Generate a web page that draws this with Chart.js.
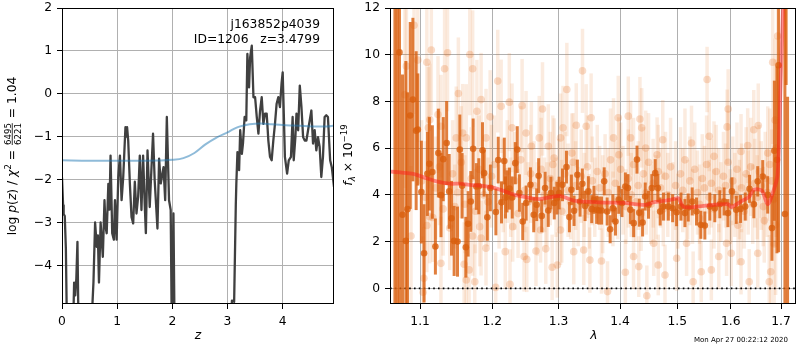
<!DOCTYPE html>
<html>
<head>
<meta charset="utf-8">
<script src="https://cdn.jsdelivr.net/npm/chart.js@4.4.0/dist/chart.umd.min.js"></script>
<style>
html,body{margin:0;padding:0;background:#fff;}
#wrap{position:relative;width:800px;height:350px;overflow:hidden;}
#pz{position:absolute;left:0;top:0;}
#spec{position:absolute;left:340px;top:0;}
</style>
</head>
<body>
<div id="wrap">
  <canvas id="pz" width="340" height="350"></canvas>
  <canvas id="spec" width="460" height="350"></canvas>
</div>
<script>
/* ---------- left panel: log p(z) ---------- */
const zTicks=[0,1,2,3,4];
const pzTicks=[-4,-3,-2,-1,0,1,2];
const zMax=4.93, pzMin=-4.9, pzMax=2;

const zGrid=[
  0.00,0.02,0.03,0.05,0.07,0.09,0.20,0.22,0.24,0.26,
  0.28,0.30,0.53,0.57,0.60,0.63,0.65,0.67,0.70,0.72,
  0.74,0.77,0.79,0.81,0.84,0.86,0.88,0.91,0.94,0.96,
  0.99,1.02,1.05,1.08,1.11,1.15,1.17,1.18,1.20,1.23,
  1.26,1.29,1.32,1.35,1.38,1.41,1.44,1.47,1.50,1.52,
  1.55,1.59,1.62,1.65,1.68,1.73,1.76,1.79,1.84,1.87,
  1.90,1.94,1.97,1.99,2.02,2.04,3.06,3.08,3.12,3.15,
  3.16,3.18,3.21,3.23,3.26,3.28,3.31,3.34,3.36,3.39,
  3.41,3.44,3.47,3.50,3.53,3.56,3.59,3.62,3.65,3.68,
  3.71,3.74,3.77,3.80,3.83,3.86,3.89,3.92,3.95,3.98,
  4.00,4.02,4.04,4.08,4.11,4.15,4.18,4.20,4.23,4.25,
  4.28,4.31,4.34,4.37,4.40,4.43,4.46,4.49,4.52,4.55,
  4.58,4.61,4.64,4.67,4.70,4.73,4.76,4.79,4.82,4.86,
  4.89,4.93];
const logPz=[
  -1.95,-2.6,-2.8,-2.85,-3.6,-5.5,-5.5,-4.4,-4.7,-4.3,
  -3.45,-5.5,-5.5,-4.4,-3.0,-3.57,-3.3,-4.4,-3.0,-3.4,
  -3.8,-2.48,-3.1,-3.25,-2.1,-2.7,-1.44,-3.25,-3.4,-2.48,
  -3.4,-1.94,-1.44,-2.48,-1.94,-0.78,-1.0,-0.78,-1.09,-2.09,
  -2.87,-3.02,-2.05,-2.79,-2.4,-1.44,-2.71,-1.44,-2.6,-3.25,
  -1.32,-2.64,-1.78,-0.93,-2.02,-3.14,-1.51,-2.09,-1.71,-2.48,
  -0.54,-2.48,-2.71,-5.5,-2.79,-5.5,-5.5,-4.82,-4.85,-2.6,
  -2.09,-1.36,-1.78,-0.85,-1.4,-1.16,-0.54,-0.62,0.93,0.15,
  0.85,1.12,-0.08,-0.08,-0.54,-0.93,-0.39,-0.08,-0.7,-0.46,
  -0.46,-1.09,-1.47,-1.55,-1.09,-0.7,-0.23,-0.08,-0.31,0.25,
  0.5,-0.46,-1.47,-1.86,-1.55,-1.47,-0.54,-1.55,-1.01,-0.46,
  -0.85,0.19,-0.31,-1.01,-1.09,-1.09,-0.85,-0.62,-0.39,-1.16,
  -0.85,-1.32,-1.01,-1.24,-1.94,-1.47,-0.54,-0.5,-0.54,-1.55,
  -1.71,-2.17];

const zSmooth=[0,0.5,1.0,1.5,2.0,2.2,2.4,2.6,2.8,3.0,3.1,3.2,3.4,3.6,3.8,4.0,4.2,4.4,4.6,4.8,4.93];
const logPzSmooth=[-1.55,-1.56,-1.56,-1.56,-1.54,-1.5,-1.38,-1.18,-1.02,-0.9,-0.83,-0.77,-0.71,-0.69,-0.71,-0.73,-0.74,-0.75,-0.76,-0.76,-0.74];

/* ---------- right panel: spectrum ---------- */
const lamTicks=[1.1,1.2,1.3,1.4,1.5,1.6,1.7];
const fluxTicks=[0,2,4,6,8,10,12];
const lamMin=1.0608, lamMax=1.731, fluxMin=-0.67, fluxMax=12;

const darkLam=[
  1.0671,1.0700,1.0730,1.0769,1.0813,1.0834,1.0870,1.0905,
  1.0948,1.0970,1.1017,1.1053,1.1097,1.1124,1.1164,1.1205,
  1.1245,1.1281,1.1312,1.1358,1.1393,1.1425,1.1461,1.1508,
  1.1540,1.1572,1.1624,1.1656,1.1694,1.1727,1.1772,1.1807,
  1.1860,1.1883,1.1929,1.1973,1.2053,1.2087,1.2135,1.2176,
  1.2194,1.2216,1.2253,1.2293,1.2338,1.2368,1.2400,1.2450,
  1.2501,1.2566,1.2616,1.2661,1.2691,1.2738,1.2790,1.2839,
  1.2880,1.2932,1.2974,1.3009,1.3061,1.3124,1.3171,1.3202,
  1.3245,1.3298,1.3341,1.3378,1.3422,1.3475,1.3530,1.3567,
  1.3611,1.3647,1.3692,1.3735,1.3784,1.3834,1.3879,1.3923,
  1.3978,1.4033,1.4090,1.4134,1.4175,1.4232,1.4289,1.4329,
  1.4386,1.4432,1.4489,1.4547,1.4607,1.4653,1.4694,1.4752,
  1.4840,1.4917,1.4988,1.5068,1.5140,1.5200,1.5273,1.5352,
  1.5433,1.5508,1.5601,1.5695,1.5790,1.5872,1.5946,1.6023,
  1.6106,1.6191,1.6281,1.6367,1.6452,1.6529,1.6629,1.6729,
  1.6815,1.6864,1.6917,1.6950,1.7080,1.7105,1.7135];
const darkFlux=[
  -4,15,10.1,3.15,2.03,3.39,7.4,8.08,
  6.75,6.8,4.12,1.5,4.9,5.33,4.98,1.79,
  5.79,3.99,5.53,6.22,4.15,3.0,2.03,2.0,
  5.94,4.39,1.76,2.76,3.72,5.97,4.36,4.37,
  5.91,4.93,3.04,4.3,3.27,5.49,3.68,5.45,
  3.89,4.15,4.27,3.89,5.36,5.94,4.08,2.86,
  3.65,4.43,3.15,3.58,4.82,3.1,4.29,3.33,
  4.08,3.65,3.86,4.08,4.43,5.19,3.05,4.22,
  3.32,4.86,3.72,4.48,3.53,4.15,3.39,3.79,
  3.36,3.33,3.33,4.58,3.29,2.53,3.43,2.86,
  3.79,3.65,4.36,4.29,3.36,2.79,5.51,3.24,
  2.82,3.93,3.58,4.29,4.93,4.29,3.29,3.5,
  3.5,3.43,3.26,3.5,3.22,3.46,3.72,3.29,
  2.72,2.69,3.5,3.43,3.6,3.72,3.22,4.15,
  3.36,3.4,3.5,4.26,3.6,4.58,4.79,4.0,
  2.58,5.89,5.5,9.55,3.18,20,-3];
const darkErr=[
  17,16,11,6,7.7,5,4,3.5,
  3.4,2.4,2.2,2.1,1.8,2.0,2.0,1.2,
  1.9,1.8,1.8,1.8,1.6,1.6,1.5,1.5,
  1.5,1.4,1.3,1.4,1.3,1.3,1.0,1.2,
  1.2,1.0,1.0,1.0,1.0,1.0,0.9,1.0,
  0.9,0.9,0.9,0.9,0.9,1.0,0.8,0.8,
  0.75,0.75,0.75,0.7,0.75,0.7,0.7,0.7,
  0.7,0.7,0.7,0.7,0.7,0.7,0.65,0.65,
  0.65,0.65,0.65,0.65,0.65,0.65,0.6,0.6,
  0.6,0.6,0.6,0.6,0.6,0.6,0.6,0.6,
  0.6,0.6,0.6,0.6,0.6,0.6,0.6,0.6,
  0.6,0.6,0.6,0.6,0.6,0.6,0.6,0.6,
  0.6,0.6,0.6,0.6,0.6,0.6,0.6,0.6,
  0.6,0.6,0.6,0.6,0.6,0.6,0.6,0.6,
  0.6,0.6,0.6,0.6,0.6,0.65,0.7,0.8,
  1.4,3.0,4.0,8.0,9.0,11.3,11.2];

const faintLam=[
  1.080,1.082,1.092,1.097,1.109,1.115,1.111,1.113,
  1.124,1.128,1.133,1.137,1.149,1.152,1.158,1.163,
  1.168,1.172,1.178,1.184,1.191,1.197,1.208,1.213,
  1.225,1.229,1.244,1.250,1.258,1.270,1.275,1.284,
  1.293,1.303,1.307,1.313,1.321,1.328,1.338,1.344,
  1.352,1.389,1.397,1.398,1.414,1.418,1.434,1.437,
  1.444,1.464,1.474,1.526,1.555,1.559,1.568,1.593,
  1.595,1.620,1.633,1.645,1.654,1.673,1.683,1.693,
  1.088,1.104,1.105,1.109,1.113,1.117,1.128,1.140,
  1.147,1.160,1.163,1.167,1.172,1.175,1.182,1.184,
  1.191,1.205,1.219,1.226,1.230,1.247,1.251,1.265,
  1.272,1.280,1.290,1.298,1.303,1.324,1.340,1.350,
  1.369,1.379,1.409,1.423,1.432,1.446,1.458,1.466,
  1.478,1.499,1.517,1.529,1.544,1.563,1.577,1.592,
  1.601,1.620,1.636,1.653,1.676,1.679,1.689,1.686,
  1.102,1.107,1.121,1.126,1.131,1.144,1.151,1.156,
  1.161,1.170,1.176,1.181,1.188,1.194,1.199,1.203,
  1.210,1.216,1.222,1.227,1.233,1.238,1.242,1.248,
  1.253,1.257,1.262,1.267,1.273,1.278,1.282,1.287,
  1.291,1.296,1.300,1.305,1.310,1.315,1.319,1.323,
  1.327,1.331,1.336,1.341,1.346,1.349,1.354,1.358,
  1.362,1.366,1.371,1.375,1.380,1.384,1.388,1.392,
  1.396,1.401,1.405,1.410,1.414,1.419,1.423,1.427,
  1.431,1.436,1.440,1.445,1.449,1.453,1.457,1.462,
  1.466,1.470,1.475,1.479,1.483,1.488,1.492,1.497,
  1.501,1.506,1.510,1.514,1.519,1.523,1.528,1.532,
  1.537,1.541,1.546,1.550,1.554,1.559,1.563,1.568,
  1.572,1.577,1.581,1.586,1.590,1.595,1.599,1.604,
  1.608,1.612,1.617,1.621,1.626,1.630,1.634,1.639,
  1.643,1.647,1.652,1.656,1.660,1.664,1.668,1.672,
  1.677,1.681,1.685,1.688,1.690,1.666,1.614,1.541];
const faintFlux=[
  8.29,9.51,11.26,9.77,9.68,10.2,6.87,7.22,
  7.44,6.94,9.4,10.08,6.44,8.34,6.65,6.44,
  10.01,9.4,7.58,8.08,6.44,7.34,8.87,7.79,
  7.97,6.87,7.82,6.65,6.08,6.44,7.68,6.08,
  5.58,6.44,6.87,8.51,5.79,6.98,9.31,6.94,
  7.3,6.44,7.3,5.72,7.37,6.44,7.25,6.87,
  6.01,5.72,6.36,6.22,8.94,6.51,5.65,6.91,
  7.68,5.86,6.11,6.79,6.97,5.79,9.68,10.8,
  2.24,-0.17,0.43,2.69,3.07,3.03,1.07,2.58,
  3.5,1.03,0.36,0.79,2.24,0.28,2.64,2.15,
  1.72,0.04,1.57,0.17,2.64,1.36,1.24,1.6,
  2.5,1.69,0.9,1.0,2.5,1.57,1.64,1.21,
  1.17,-0.14,0.69,1.36,0.93,-0.32,1.93,1.0,
  0.57,1.29,1.93,0.28,0.71,0.79,1.36,1.93,
  1.5,1.14,0.28,1.5,0.28,0.71,2.72,1.9,
  4.6,3.9,4.3,5.2,3.4,4.9,4.1,5.4,
  3.6,4.7,3.3,5.1,4.0,3.7,4.8,5.3,
  3.5,4.4,5.0,3.9,4.6,3.2,5.5,4.2,
  3.7,4.9,4.4,3.4,5.1,4.0,3.6,4.7,
  5.3,3.9,4.5,3.3,4.9,4.2,3.7,5.4,
  4.4,3.5,4.8,4.0,5.2,3.3,4.6,3.9,
  5.0,4.3,3.6,4.9,4.1,5.5,3.4,4.5,
  3.8,5.1,4.2,3.5,4.7,4.0,5.3,3.7,
  4.4,3.2,4.9,4.1,5.4,3.6,4.5,3.9,
  5.0,4.3,3.4,4.8,4.0,5.2,3.7,4.4,
  3.3,4.9,4.2,5.5,3.8,4.6,3.5,5.1,
  4.1,3.6,4.7,4.3,5.3,3.9,4.5,3.4,
  5.0,4.2,3.7,4.8,4.4,5.4,3.5,4.6,
  4.0,5.1,3.8,4.3,3.3,4.9,4.1,5.2,
  3.6,4.5,3.9,5.0,4.4,3.5,4.7,4.1,
  5.3,4.6,3.8,7.2,6.0,2.9,2.7,3.0];
const faintErr=[
  4.0,4.5,3.8,3.5,3.0,2.8,2.6,2.4,
  2.5,2.2,2.6,2.5,2.2,2.4,2.1,2.3,
  2.6,2.5,2.2,2.0,2.1,2.0,2.2,2.0,
  2.1,1.9,2.0,1.8,1.9,1.8,2.0,1.8,
  1.7,1.9,1.8,2.0,1.7,1.8,1.8,1.8,
  1.9,1.7,1.8,1.6,1.7,1.6,1.8,1.7,
  1.6,1.6,1.7,1.6,1.4,1.5,1.5,1.6,
  1.7,1.6,1.6,1.7,1.8,2.0,3.5,4.0,
  3.0,2.4,2.2,2.0,2.0,1.9,2.0,1.8,
  1.8,1.8,1.7,1.8,1.7,1.6,1.7,1.6,
  1.6,1.5,1.6,1.5,1.5,1.5,1.4,1.5,
  1.4,1.5,1.4,1.4,1.5,1.4,1.5,1.4,
  1.4,1.3,1.4,1.4,1.3,1.3,1.4,1.3,
  1.3,1.4,1.4,1.3,1.3,1.3,1.4,1.4,
  1.4,1.4,1.4,1.5,2.0,2.2,3.0,2.6,
  2.6,2.4,2.2,2.5,2.0,2.3,1.9,2.4,
  2.1,2.2,1.8,2.3,2.0,1.9,2.2,2.1,
  1.8,2.0,2.2,1.7,2.1,1.9,2.3,1.8,
  1.7,2.1,1.9,2.0,2.2,1.6,1.8,2.0,
  2.1,1.7,1.9,2.2,1.8,2.0,1.6,2.1,
  1.9,1.7,2.0,1.8,2.2,1.6,1.9,1.7,
  2.0,1.8,2.1,1.7,1.9,2.2,1.6,1.8,
  1.7,2.0,1.9,1.6,2.1,1.8,2.0,1.7,
  1.9,1.6,2.0,1.8,2.1,1.7,1.9,1.8,
  2.0,1.7,1.6,1.9,1.8,2.1,1.7,1.9,
  1.6,2.0,1.8,2.2,1.7,1.9,1.6,2.0,
  1.8,1.7,1.9,1.8,2.1,1.6,1.9,1.7,
  2.0,1.8,1.7,1.9,1.8,2.2,1.6,1.9,
  1.8,2.0,1.7,1.9,1.6,2.0,1.8,2.1,
  1.7,1.9,1.8,2.0,1.9,1.7,2.0,1.9,
  2.4,2.2,2.0,3.5,3.8,1.8,1.7,1.8];

const modelLam=[1.062,1.074,1.091,1.108,1.122,1.140,1.154,1.168,1.186,1.200,1.215,1.230,1.240,1.270,1.301,1.324,1.365,1.406,1.444,1.458,1.478,1.495,1.502,1.511,1.531,1.557,1.595,1.601,1.620,1.636,1.645,1.661,1.673,1.683,1.693,1.699,1.705];
const modelFlux=[5.0,4.96,4.9,4.72,4.58,4.48,4.48,4.43,4.39,4.32,4.19,4.03,3.96,3.82,3.96,3.76,3.68,3.66,3.57,3.69,3.75,3.83,3.86,3.5,3.48,3.55,3.6,3.48,3.72,3.93,4.22,4.18,3.6,4.08,4.86,8.7,12.5];

/* ---------- shared bits ---------- */
const FONT='"DejaVu Sans", sans-serif';
const FS=12.3;
Chart.defaults.font.family=FONT;
Chart.defaults.font.size=FS;
Chart.defaults.color='#000';

const fmtNum=v=>v<0?'\u2212'+Math.abs(v):String(v);
const f=(sz,it)=>(it?'italic ':'')+sz+'px '+FONT;

function drawRich(ctx,parts,x,y,rot) {
    ctx.save();
    ctx.translate(x,y); ctx.rotate(rot||0);
    ctx.fillStyle='#000'; ctx.textBaseline='alphabetic'; ctx.textAlign='left';
    let total=0;
    parts.forEach(p=>{
        ctx.font=p.font;
        p.w=p.frac?Math.max(ctx.measureText(p.frac[0]).width,ctx.measureText(p.frac[1]).width)+2:ctx.measureText(p.t).width;
        total+=p.w;
    });
    let cx=-total/2;
    const b=4.4;
    parts.forEach(p=>{
        ctx.font=p.font;
        if (p.frac) {
            ctx.textAlign='center';
            ctx.fillText(p.frac[0],cx+p.w/2,b-5.6);
            ctx.fillText(p.frac[1],cx+p.w/2,b+4.6);
            ctx.fillRect(cx+1,b-4.6,p.w-2,0.8);
            ctx.textAlign='left';
        } else ctx.fillText(p.t,cx,b+(p.dy||0));
        cx+=p.w;
    });
    ctx.restore();
}

const framePlugin={
    id:'frame',
    afterDraw(chart) {
        const {ctx,chartArea:a}=chart;
        ctx.save();
        ctx.strokeStyle='#000'; ctx.lineWidth=1;
        ctx.strokeRect(Math.round(a.left)+0.5,Math.round(a.top)+0.5,Math.round(a.right-a.left)-1,Math.round(a.bottom-a.top)-1);
        ctx.restore();
    }
};

function axisOpts(min,max,ticks,fmt,fit,extra) {
    return Object.assign({
        min,max,
        afterBuildTicks:s=>{s.ticks=ticks.map(v=>({value:v}));},
        afterFit:s=>{fit(s); s.paddingTop=0; s.paddingBottom=0; s.paddingLeft=0; s.paddingRight=0;},
        grid:{color:'#b0b0b0',lineWidth:1,tickColor:'#000',tickLength:5,tickWidth:1,offset:false},
        border:{display:false},
        ticks:{padding:5,maxRotation:0,autoSkip:false,color:'#000',font:{size:FS},callback:fmt}
    },extra||{});
}

/* ---------- p(z) chart ---------- */
new Chart(document.getElementById('pz'),{
    type:'scatter',
    data:{datasets:[
        {type:'line',data:zSmooth.map((z,i)=>({x:z,y:logPzSmooth[i]})),borderColor:'rgba(31,119,180,0.5)',borderWidth:2,
         pointRadius:0,cubicInterpolationMode:'monotone',clip:0,order:0},
        {type:'line',data:zGrid.map((z,i)=>({x:z,y:logPz[i]})),borderColor:'#404040',borderWidth:2.3,
         pointRadius:0,tension:0,borderJoinStyle:'round',clip:0,order:1}
    ]},
    options:{
        responsive:false,devicePixelRatio:1,animation:false,events:[],
        layout:{padding:{top:8,right:6,left:0,bottom:0}},
        plugins:{legend:{display:false},tooltip:{enabled:false}},
        scales:{
            x:axisOpts(0,zMax,zTicks,fmtNum,s=>{s.height=46;},{type:'linear'}),
            y:axisOpts(pzMin,pzMax,pzTicks,fmtNum,s=>{s.width=62;},{type:'linear'})
        }
    },
    plugins:[framePlugin,{
        id:'pzText',
        afterDraw(chart) {
            const ctx=chart.ctx;
            drawRich(ctx,[
                {t:'log ',font:f(FS)},{t:'p',font:f(FS,1)},{t:'(',font:f(FS)},{t:'z',font:f(FS,1)},
                {t:') / ',font:f(FS)},{t:'\u03c7',font:f(FS,1)},{t:'2',font:f(8.6),dy:-5.5},
                {t:' = ',font:f(FS)},{frac:['6495','6221'],font:f(8.6)},{t:' = 1.04',font:f(FS)}
            ],12,156,-Math.PI/2);
            drawRich(ctx,[{t:'z',font:f(FS,1)}],198,335);
            ctx.save();
            ctx.font=f(FS); ctx.fillStyle='#000'; ctx.textAlign='right'; ctx.textBaseline='middle';
            ctx.fillText('j163852p4039',320,25);
            ctx.fillText('ID=1206   z=3.4799',320,40);
            ctx.restore();
        }
    }]
});

/* ---------- spectrum chart ---------- */
const FAINT='rgba(230,110,30,0.14)';
const FAINT_PT='rgba(230,110,30,0.24)';
const DARK='rgba(217,95,14,0.8)';

new Chart(document.getElementById('spec'),{
    type:'scatter',
    data:{datasets:[
        {type:'bar',data:faintLam.map((l,i)=>({x:l,y:[faintFlux[i]-faintErr[i],faintFlux[i]+faintErr[i]]})),
         backgroundColor:FAINT,barThickness:3.5,grouped:false,borderWidth:0,inflateAmount:0,clip:0,order:6},
        {type:'scatter',data:faintLam.map((l,i)=>({x:l,y:faintFlux[i]})),
         pointRadius:3.8,pointBackgroundColor:FAINT_PT,pointBorderWidth:0,clip:0,order:5},
        {type:'line',data:[{x:lamMin,y:0},{x:lamMax,y:0}],borderColor:'#000',borderWidth:1.6,borderDash:[1.6,3.2],
         pointRadius:0,clip:0,order:4},
        {type:'bar',data:darkLam.map((l,i)=>({x:l,y:[darkFlux[i]-darkErr[i],darkFlux[i]+darkErr[i]]})),
         backgroundColor:DARK,barThickness:3,grouped:false,borderWidth:0,inflateAmount:0,clip:0,order:3},
        {type:'scatter',data:darkLam.map((l,i)=>({x:l,y:darkFlux[i]})),
         pointRadius:3.3,pointBackgroundColor:DARK,pointBorderWidth:0,clip:0,order:2},
        {type:'line',data:modelLam.map((l,i)=>({x:l,y:modelFlux[i]})),borderColor:'rgba(255,30,30,0.5)',borderWidth:3.8,
         pointRadius:0,tension:0.3,clip:0,order:1}
    ]},
    options:{
        responsive:false,devicePixelRatio:1,animation:false,events:[],
        layout:{padding:{top:8,right:1,left:0,bottom:0}},
        plugins:{legend:{display:false},tooltip:{enabled:false}},
        scales:{
            x:axisOpts(lamMin,lamMax,lamTicks,v=>Number(v).toFixed(1),s=>{s.height=46;},{type:'logarithmic',offset:false}),
            y:axisOpts(fluxMin,fluxMax,fluxTicks,fmtNum,s=>{s.width=50;},{type:'linear'})
        }
    },
    plugins:[framePlugin,{
        id:'specText',
        afterDraw(chart) {
            const ctx=chart.ctx;
            drawRich(ctx,[
                {t:'f',font:f(FS,1)},{t:'\u03bb',font:f(8.6,1),dy:2.6},{t:' \u00d7 10',font:f(FS)},
                {t:'\u221219',font:f(8.6),dy:-5.8}
            ],8,155,-Math.PI/2);
            drawRich(ctx,[{t:'\u03bb',font:f(FS,1)}],254,335);
            ctx.save();
            ctx.font=f(7); ctx.fillStyle='#000'; ctx.textAlign='center'; ctx.textBaseline='middle';
            ctx.fillText('Mon Apr 27 00:22:12 2020',401,340);
            ctx.restore();
        }
    }]
});
</script>
</body>
</html>
